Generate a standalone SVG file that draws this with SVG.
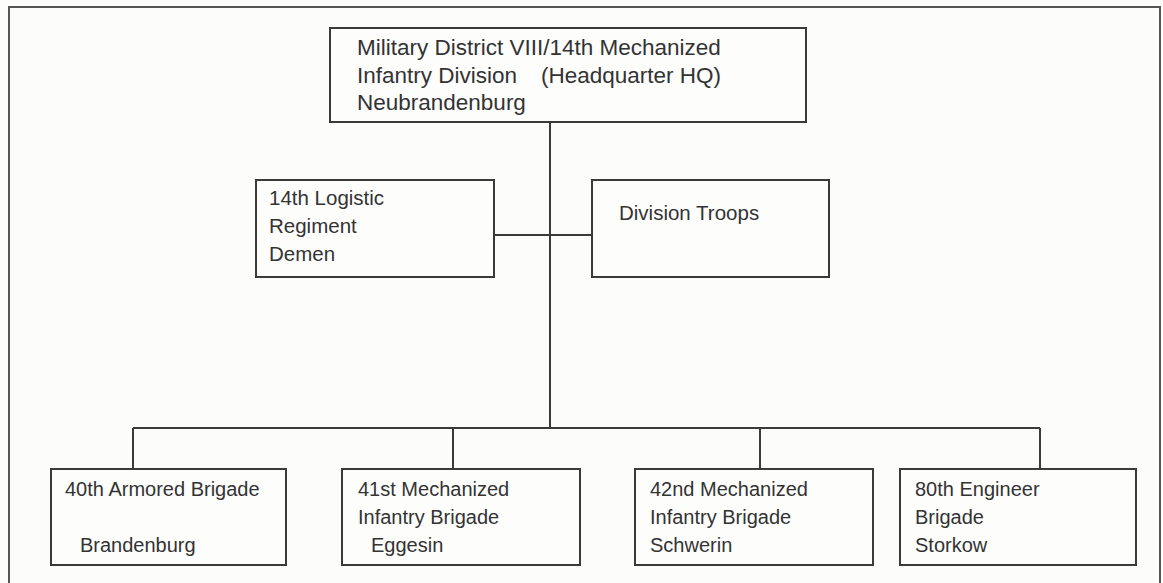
<svg xmlns="http://www.w3.org/2000/svg" width="1163" height="583" viewBox="0 0 1163 583">
  <style>
    .box { fill: #fdfdfc; stroke: #3a3a3a; stroke-width: 2; }
    .frame { fill: none; stroke: #555555; stroke-width: 2; }
    .conn { fill: none; stroke: #3a3a3a; stroke-width: 2; }
    .t { font-family: "Liberation Sans", Arial, sans-serif; fill: #333333; }
    .top { font-size: 22.5px; }
    .mid { font-size: 20.5px; }
    .bot { font-size: 20px; }
  </style>
  <rect x="0" y="0" width="1163" height="583" fill="#fcfdfb"/>
  <path class="frame" d="M9,583 V7 H1160 V583"/>

  <g id="connectors">
    <line class="conn" x1="550" y1="122" x2="550" y2="428"/>
    <line class="conn" x1="494" y1="235" x2="592" y2="235"/>
    <line class="conn" x1="133" y1="428" x2="1040" y2="428"/>
    <line class="conn" x1="133" y1="428" x2="133" y2="469"/>
    <line class="conn" x1="453" y1="428" x2="453" y2="469"/>
    <line class="conn" x1="760" y1="428" x2="760" y2="469"/>
    <line class="conn" x1="1040" y1="428" x2="1040" y2="469"/>
  </g>

  <g id="hq">
    <rect class="box" x="330" y="28" width="476" height="94"/>
    <text class="t top" x="357" y="55">Military District VIII/14th Mechanized</text>
    <text class="t top" x="357" y="83">Infantry Division<tspan x="541">(Headquarter HQ)</tspan></text>
    <text class="t top" x="357" y="110">Neubrandenburg</text>
  </g>

  <g id="logistic">
    <rect class="box" x="256" y="180" width="238" height="97"/>
    <text class="t mid" x="269" y="205">14th Logistic</text>
    <text class="t mid" x="269" y="233">Regiment</text>
    <text class="t mid" x="269" y="261">Demen</text>
  </g>

  <g id="divtroops">
    <rect class="box" x="592" y="180" width="237" height="97"/>
    <text class="t mid" x="619" y="220">Division Troops</text>
  </g>

  <g id="b40">
    <rect class="box" x="51" y="469" width="235" height="96"/>
    <text class="t bot" x="65" y="496">40th Armored Brigade</text>
    <text class="t bot" x="80" y="552">Brandenburg</text>
  </g>

  <g id="b41">
    <rect class="box" x="342" y="469" width="238" height="96"/>
    <text class="t bot" x="358" y="496">41st Mechanized</text>
    <text class="t bot" x="358" y="524">Infantry Brigade</text>
    <text class="t bot" x="371" y="552">Eggesin</text>
  </g>

  <g id="b42">
    <rect class="box" x="635" y="469" width="238" height="96"/>
    <text class="t bot" x="650" y="496">42nd Mechanized</text>
    <text class="t bot" x="650" y="524">Infantry Brigade</text>
    <text class="t bot" x="650" y="552">Schwerin</text>
  </g>

  <g id="b80">
    <rect class="box" x="900" y="469" width="236" height="96"/>
    <text class="t bot" x="915" y="496">80th Engineer</text>
    <text class="t bot" x="915" y="524">Brigade</text>
    <text class="t bot" x="915" y="552">Storkow</text>
  </g>
</svg>
